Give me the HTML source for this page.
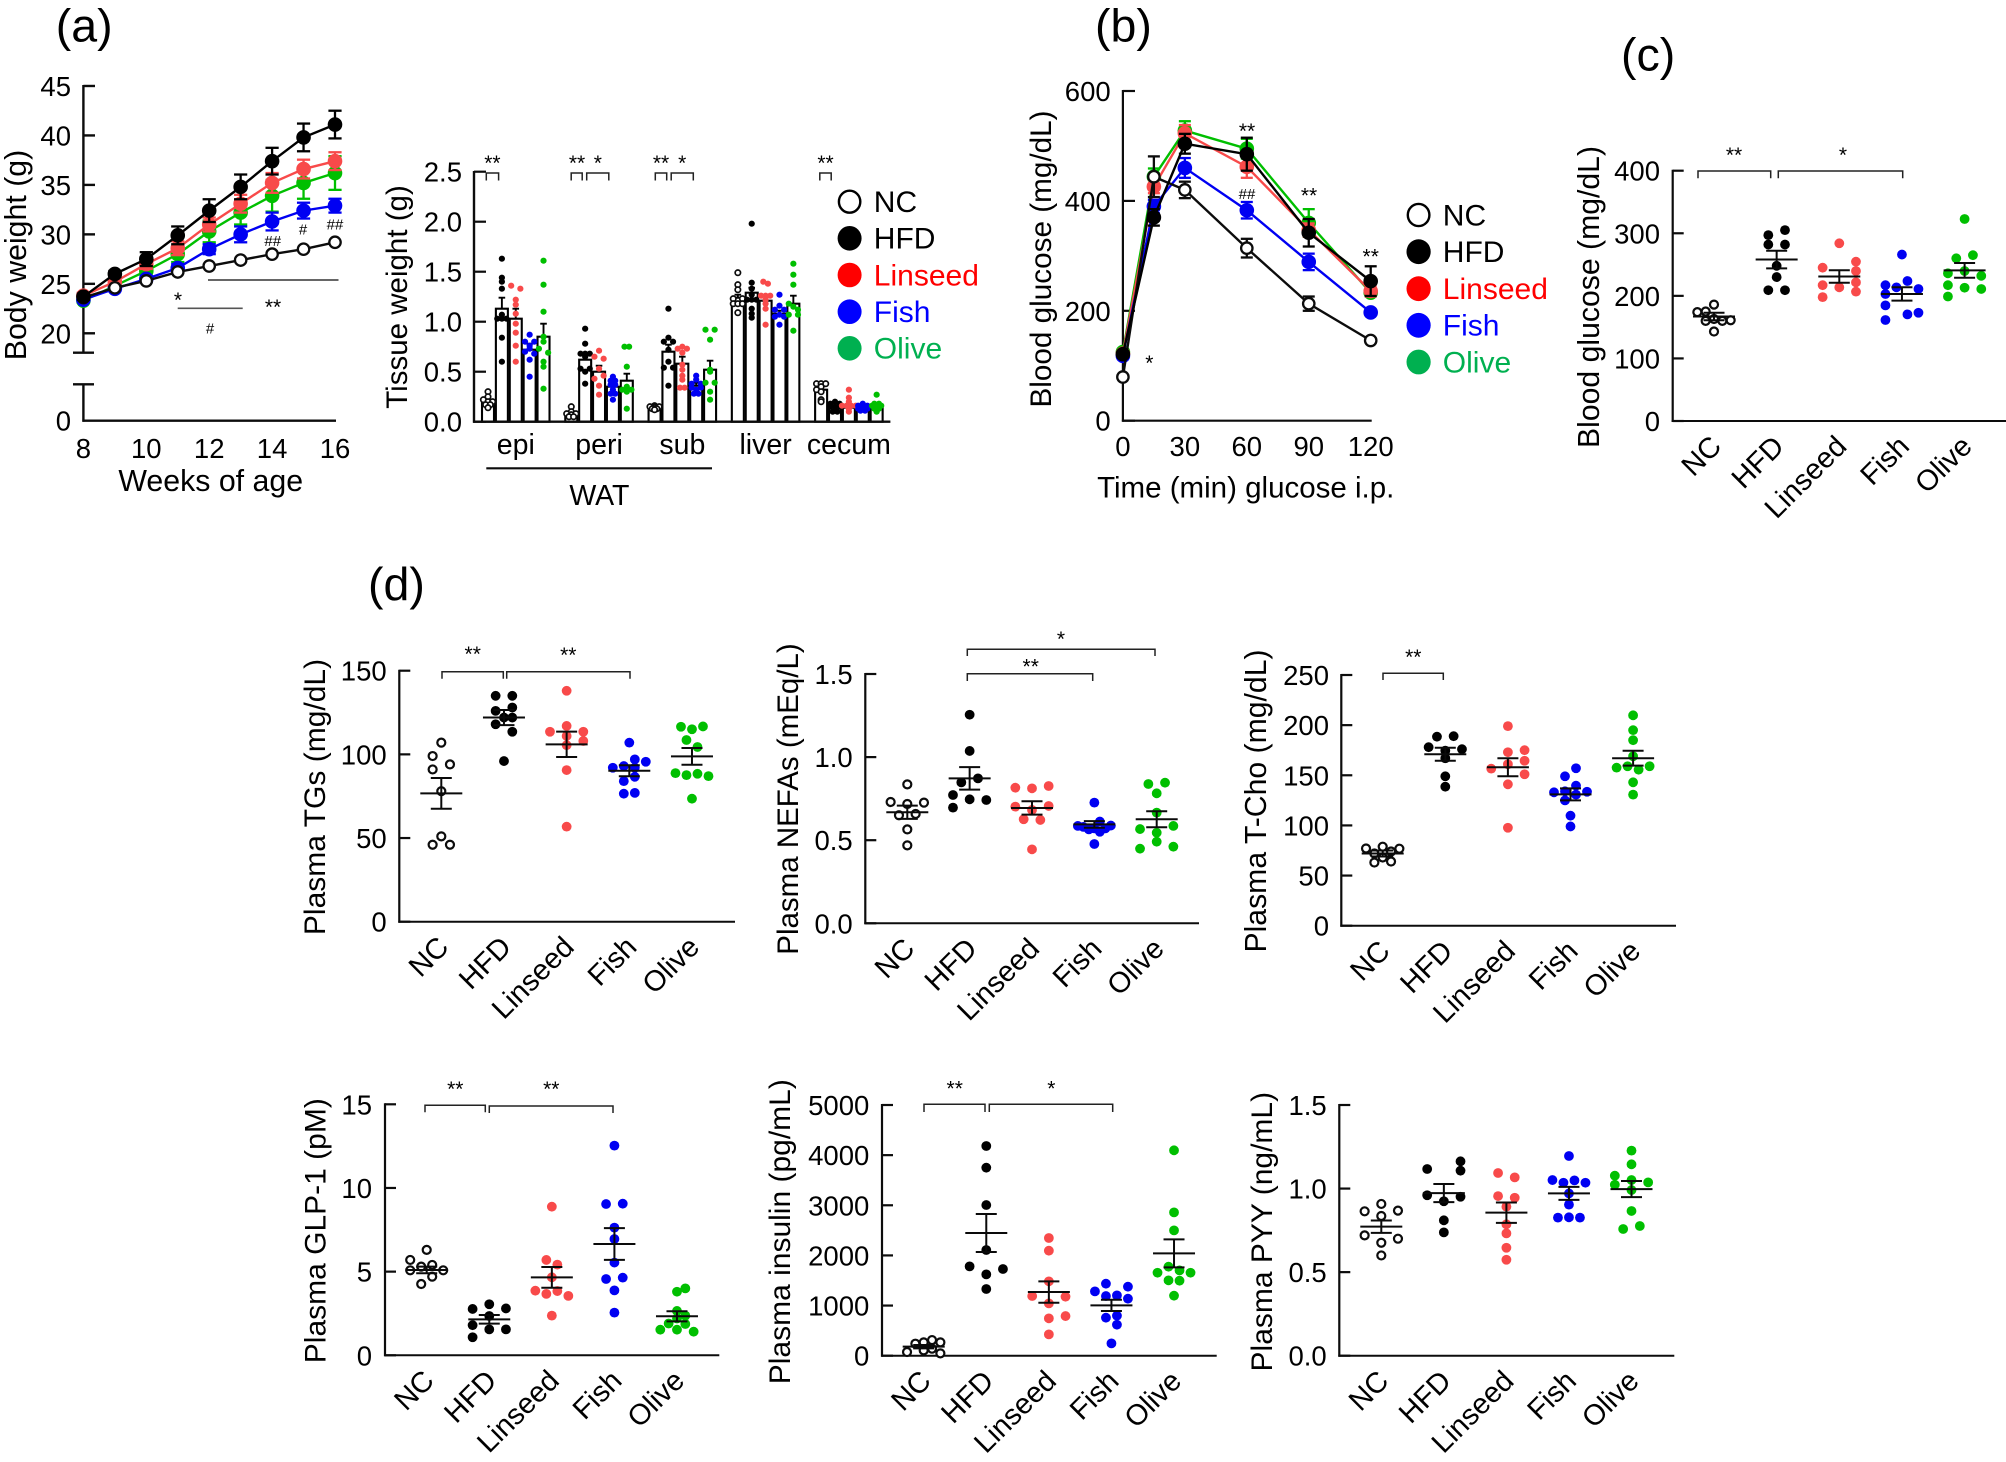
<!DOCTYPE html>
<html lang="en">
<head>
<meta charset="utf-8">
<title>Metabolic phenotype panels</title>
<style>
html,body{margin:0;padding:0;background:#fff;}
#figure{position:absolute;left:0;top:0;display:block;width:2006px;height:1462px;font-family:"Liberation Sans",Arial,sans-serif;}
</style>
</head>
<body>
<svg id="figure" xmlns="http://www.w3.org/2000/svg" width="2006" height="1462" viewBox="0 0 2006 1462"></svg>
<script>
/* ---------- shared categories ---------- */
const groupLabels = ['NC','HFD','Linseed','Fish','Olive'];

/* ---------- (a) body weight ---------- */
const bodyWeeks = [8,9,10,11,12,13,14,15,16];
const bodyWeekTicks = [8,10,12,14,16];
const bodyTicks = [20,25,30,35,40,45];
const bodyNC = [23.6,24.6,25.3,26.2,26.8,27.4,28.0,28.5,29.2];
const bodyNCErr = [0.2,0.2,0.2,0.2,0.2,0.2,0.2,0.2,0.2];
const bodyHFD = [23.7,26.0,27.5,29.9,32.4,34.8,37.4,39.8,41.1];
const bodyHFDErr = [0.3,0.3,0.7,0.9,1.15,1.25,1.35,1.4,1.4];
const bodyLinseed = [23.8,25.2,27.0,28.6,31.0,33.1,35.2,36.6,37.4];
const bodyLinseedErr = [0.3,0.3,0.5,0.7,0.7,0.9,1.0,0.95,0.9];
const bodyFish = [23.4,24.5,25.5,26.6,28.5,30.0,31.3,32.4,32.9];
const bodyFishErr = [0.2,0.2,0.3,0.4,0.5,0.8,0.9,0.8,0.7];
const bodyOlive = [23.3,24.8,26.3,28.0,30.3,32.2,33.9,35.2,36.2];
const bodyOliveErr = [0.2,0.3,0.5,0.8,1.1,1.2,1.6,1.6,1.7];

/* ---------- (a) tissue weight ---------- */
const tissueOrgans = ['epi','peri','sub','liver','cecum'];
const tissueTicks = [0,0.5,1,1.5,2,2.5];
const tissueTickLabels = ['0.0','0.5','1.0','1.5','2.0','2.5'];
const tissueMeans = [
  [0.20,1.13,1.03,0.72,0.85],
  [0.07,0.62,0.50,0.35,0.41],
  [0.14,0.70,0.58,0.36,0.52],
  [1.24,1.29,1.21,1.08,1.18],
  [0.32,0.14,0.14,0.13,0.14]
];
const tissueSems = [
  [0.02,0.11,0.10,0.06,0.13],
  [0.01,0.05,0.06,0.03,0.07],
  [0.01,0.07,0.07,0.03,0.09],
  [0.03,0.05,0.05,0.03,0.08],
  [0.03,0.01,0.02,0.01,0.02]
];
const tissueEpiDots = [
  [[.30],[.25],[.22,.2,.2],[.17,.17],[.14]],
  [[1.63],[1.44],[1.4],[1.33],[1.07],[1.03,1.03,1.03],[.84],[.6]],
  [[1.36,null,1.33],[1.22],[1.17],[1.08],[.98],[.89],[.76],[.6]],
  [[.87],[.8,null,.8],[.76],[.73],[.7,null,null],[null,null,.68],[.62],[.45]],
  [[1.61],[1.37],[1.1],[.85],[.8],[.73,null,null],[null,null,.69],[.6],[.55],[.33]]
];
const tissuePeriDots = [
  [[.15],[.1],[.08,.07,.08],[.05,.05]],
  [[.93],[.78],[.68,.68,.68],[.65],[.53,null,.53],[.5],[.38]],
  [[.71],[.65,null,null],[null,null,.63],[.53],[null,null,.46],[.43,null,null],[.36],[.27]],
  [[.45],[.41,.41],[.37,.37],[.32],[.28,.28],[.22]],
  [[.75,.75],[.55],[.35],[.32,.32,.32],[.3],[.13]]
];
const tissueSubDots = [
  [[.16],[.15,.15,.15],[.14],[.13,.13],[.12]],
  [[1.13],[.84],[.8,null,.8],[.72],[.6],[.54,null,.54],[.36]],
  [[.75],[.73,null,.73],[.69],[.57],[.52],[.46],[.42],[.34,.34]],
  [[.46],[.42],[.38,null,.38],[.34,null,.34],[.32],[.28,.28]],
  [[.92,null,.92],[.82],[.52],[.5],[.39,null,.39],[.3],[.22]]
];
const tissueLiverDots = [
  [[1.49],[1.37],[1.32],[1.23,null,1.23],[1.18,1.18,1.18],[1.09]],
  [[1.98],[1.39],[1.33],[1.27],[1.22,1.22,1.22],[1.13],[1.08],[1.04]],
  [[1.4,1.38],[1.26,1.26,1.26],[1.22],[1.18],[1.13],[.97]],
  [[1.27],[1.16],[1.12,null,1.12],[1.07],[1.05,null,1.05],[.97]],
  [[1.58],[1.47],[1.37],[1.18,null,null],[1.15],[null,null,1.12],[1.07,null,1.07],[.91]]
];
const tissueCecumDots = [
  [[.38,.38,.38],[.35],[.32,null,null],[.3],[.22],[.2]],
  [[.2],[.18,null,.18],[.15,.15,.15],[.1,.1]],
  [[.32],[.24],[.2],[.16,.16,.16,.16],[.13],[.1]],
  [[.18],[.16,.16,.16],[.13,.13,.13],[.11,.11]],
  [[.27],[.18,.18],[.16,.16,.16],[.13,.13],[.1]]
];

/* ---------- (b) glucose tolerance ---------- */
const gttTimes = [0,15,30,60,90,120];
const gttTimeTicks = [0,30,60,90,120];
const gttTicks = [0,200,400,600];
const gttNC = [79.5,444,420,314,213,146];
const gttNCErr = [3,37,15,17,13,4];
const gttHFD = [121,370,504,485,342,254];
const gttHFDErr = [4,15,18,30,25,27];
const gttLinseed = [122,426,523,462,347,236];
const gttLinseedErr = [4,12,15,20,12,10];
const gttFish = [118,390,460,383,289,197];
const gttFishErr = [4,12,18,15,15,4];
const gttOlive = [125,444,528,495,360,233];
const gttOliveErr = [4,15,17,18,25,6];

/* ---------- (c) blood glucose ---------- */
const bgTicks = [0,100,200,300,400];
const bgMeans = [167,258,231,203,240.7];
const bgSems = [6,14,10,10.7,11.7];
const bgDots = [
  [[186],[174,175,null,null,null],[null,160,163,160,161],[143]],
  [[297,305],[282,282],[248],[230],[209,209]],
  [[284],[null,null,254.6],[245,null,null],[null,null,239.7],[null,null,221.6],[217,213.6,null],[null,null,206.7],[198,null,null]],
  [[266],[null,null,223.7,null],[217,213.6,null,211],[203,null,null,null],[184.8,null,null,null],[null,null,170.4,173],[161.4,null,null,null]],
  [[322.8],[260,265],[236,239.7,232],[217,213,211],[199,null,null]]
];

/* ---------- (d) plasma TGs ---------- */
const tgTicks = [0,50,100,150];
const tgMeans = [76.7,122,106,90.2,98.8];
const tgSems = [9.2,4.5,7.6,3.3,5];
const tgDots = [
  [[107],[99,94],[91,null],[78],[51],[46,46]],
  [[135,135],[126,128],[122],[null,122],[118,null],[null,113.5],[96]],
  [[138],[117],[113.5,null,113.5],[111],[null,null,108],[105.5],[90.6],[56.8]],
  [[107],[null,null,97,95.6],[92,93,92,null],[null,null,86.6,null],[null,84,null,null],[null,76.5,77,null]],
  [[116.5,115,116.7],[108.6,null],[null,104.4],[88.8,87.6,88.4,87],[73.5]]
];

/* ---------- (d) plasma NEFAs ---------- */
const nefaTicks = [0,0.5,1,1.5];
const nefaTickLabels = ['0.0','0.5','1.0','1.5'];
const nefaMeans = [.668,.872,.694,.595,.626];
const nefaSems = [.04,.068,.04,.02,.048];
const nefaDots = [
  [[.836],[.73,null,.718,null,.726],[null,.65,null,.658,null],[.565],[.469]],
  [[1.255],[1.037],[null,.848,null,.872,null],[.772,null,.746,null,.742],[.696,null,null,null,null]],
  [[.816,.812,.826],[.702,null,.706],[.682],[.626,.622],[.445]],
  [[.726],[null,null,null,null,.612,null,null],[.586,.58,.565,.571,.551,.571,.588],[.477]],
  [[.838,.846],[.782],[.666],[.567,null,.586],[.545],[.491],[.449,null,.461]]
];

/* ---------- (d) plasma T-Cho ---------- */
const tchoTicks = [0,50,100,150,200,250];
const tchoMeans = [72,171,158,131,167];
const tchoSems = [3,6.5,9,6,7.4];
const tchoDots = [
  [[78.8],[77,null,null,null,76.8],[null,72,null,74,null],[68],[null,63,null,64,null]],
  [[188.5,null,189],[178,null,null,null,176],[174.5],[167],[149],[138.6]],
  [[199],[null,173,175],[null,null,164.5],[161],[156.6,null,null],[null,null,151],[141],[97.7]],
  [[null,null,157,null],[null,149,null,null],[null,null,139.6,null],[133,134,null,133.6],[null,null,130.7,null],[null,125,null,null],[109.7],[99]],
  [[209.8],[195],[185],[169],[157.6,159,155.6,159],[143],[130.7]]
];

/* ---------- (d) plasma GLP-1 ---------- */
const glpTicks = [0,5,10,15];
const glpMeans = [5.1,2.15,4.66,6.65,2.33];
const glpSems = [.2,.26,.62,.95,.3];
const glpDots = [
  [[6.3],[5.7,null,null,null],[null,5.3,5.4,null],[5.08,null,null,5.08],[null,null,4.7,null],[null,4.26,null,null]],
  [[3.05],[2.77,null,2.8],[2.35],[1.8,null,null],[null,1.55,1.55],[1.08,null,null]],
  [[8.88],[null,5.7,5.42,null],[4.66],[3.86,3.67,3.84,3.55],[2.37]],
  [[12.53],[9.04,9.06],[7.63],[6.95],[5.54],[4.56,4.64],[3.88],[2.55]],
  [[null,null,3.8,4.0,null],[2.65],[null,null,2.2,2.37,null],[null,1.9,null,1.87,null],[1.53,null,1.53,null,1.41]]
];

/* ---------- (d) plasma insulin ---------- */
const insTicks = [0,1000,2000,3000,4000,5000];
const insMeans = [180,2447,1270,1004,2041];
const insSems = [33,378,213,112,279];
const insDots = [
  [[null,240,266,312,266],[73,null,106,140,47]],
  [[4182],[3750],[3005],[2108],[1782,null,1729],[1622],[1330]],
  [[2347],[2094],[1483],[1190,null,1177],[1044],[null,null,791],[745],[425]],
  [[null,1436,null,1376],[1283,1190,1203,1137],[null,758,798,null],[null,null,618,null],[246]],
  [[4096],[2859],[2500],[1655,1775,1702,1655],[null,1503,1496,null],[1197]]
];

/* ---------- (d) plasma PYY ---------- */
const pyyTicks = [0,0.5,1,1.5];
const pyyTickLabels = ['0.0','0.5','1.0','1.5'];
const pyyMeans = [.772,.973,.856,.971,.997];
const pyySems = [.037,.054,.061,.039,.048];
const pyyDots = [
  [[.908],[.864,null,.868],[.836],[.72,null,.7],[.676],[.6]],
  [[null,null,1.163],[1.117,null,1.107],[.96,null,.951],[.924],[.81],[.738]],
  [[1.093,1.067],[.955,.945],[.892],[.786],[.732],[.646],[.574]],
  [[1.195],[1.051,1.035,1.049,1.035],[.971],[.904],[.826,.828,.826]],
  [[1.227],[1.145],[1.077,null,null],[1.051],[null,null,1.037],[1.023,null,null],[.991],[.866],[.758,.776]]
];

/* ---------- drawing ---------- */
const NS = 'http://www.w3.org/2000/svg';
const root = document.getElementById('figure');
const INK = '#0c0c0c';
const plotColors = {NC:'#0c0c0c',HFD:'#000000',Linseed:'#f84a4a',Fish:'#0000f2',Olive:'#00bf00'};
const legendColors = {NC:'#000000',HFD:'#000000',Linseed:'#ff0000',Fish:'#0000ff',Olive:'#00b050'};

function mk(parent, tag, attrs, name){
  const el = document.createElementNS(NS, tag);
  for (const k in attrs) el.setAttribute(k, attrs[k]);
  
  
  parent.appendChild(el);
  return el;
}
function group(parent, name){ return mk(parent, 'g', {}, name); }
function seg(p, x1, y1, x2, y2, sw, color, name){
  return mk(p, 'line', {x1:x1, y1:y1, x2:x2, y2:y2, stroke:color||INK, 'stroke-width':sw||2}, name);
}
function label(p, str, x, y, o, name){
  o = o || {};
  let t = 'translate(' + x + ' ' + y + ')';
  if (o.rot) t += ' rotate(' + o.rot + ')';
  const el = mk(p, 'text', {x:0, y:0, transform:t, 'font-size':o.size||27.5, 'text-anchor':o.anchor||'middle', fill:o.fill||'#000'}, name);
  el.textContent = str;
  return el;
}
function stars(p, str, x, yCenter){
  label(p, str, x, yCenter + 12, {size:21}, 'significance-stars');
}
function hash(p, str, x, yCenter){
  label(p, str, x, yCenter + 5.5, {size:15}, 'significance-hash');
}
function bracket(p, x1, x2, top, legs){
  mk(p, 'path', {d:'M'+x1+' '+legs+'V'+top+'H'+x2+'V'+legs, fill:'none', stroke:'#222', 'stroke-width':1.5}, 'significance-bracket');
}
function dot(p, cx, cy, r, color, open, sw, name){
  return mk(p, 'circle', {cx:cx, cy:cy, r:r, fill:open ? '#fff' : color, stroke:open ? color : 'none', 'stroke-width':open ? sw : 0}, name);
}

/* dot plot panels */
function dotPlot(cfg){
  const g = group(root, cfg.name);
  const y = v => cfg.y0 - (v / cfg.maxV) * (cfg.y0 - cfg.yTop);
  const xc = i => cfg.x0 + i * cfg.dx;
  seg(g, cfg.axisX, cfg.yTop - 1, cfg.axisX, cfg.y0 + 1, 2.2, INK, 'y-axis-line');
  seg(g, cfg.axisX - 1, cfg.y0, cfg.endX, cfg.y0, 2, INK, 'x-axis-line');
  cfg.ticks.forEach((t, i) => {
    seg(g, cfg.axisX, y(t), cfg.axisX + 11, y(t), 2.2, INK, 'y-tick');
    label(g, cfg.tickLabels ? cfg.tickLabels[i] : String(t), cfg.labelRight, y(t) + 10, {anchor:'end'}, 'y-tick-label');
  });
  label(g, cfg.title, cfg.titleX, cfg.titleY, {rot:-90, size:cfg.titleSize || 30}, 'y-axis-title');
  groupLabels.forEach((n, i) => {
    label(g, n, xc(i) + 9, cfg.y0 + 27, {rot:-45, anchor:'end', size:29}, 'x-tick-label-' + n.toLowerCase());
  });
  cfg.dots.forEach((rows, i) => {
    const name = groupLabels[i];
    const color = plotColors[name];
    const grp = group(g, 'group-' + name.toLowerCase());
    const step = cfg.steps[i] / 3;
    rows.forEach(row => {
      row.forEach((v, k) => {
        if (v === null) return;
        const cx = xc(i) + (k - (row.length - 1) / 2) * step;
        if (name === 'NC') dot(grp, cx, y(v), 4, color, true, 2.2, 'data-point');
        else dot(grp, cx, y(v), 4.9, color, false, 0, 'data-point');
      });
    });
    const m = cfg.means[i], s = cfg.sems[i];
    seg(grp, xc(i) - 21, y(m), xc(i) + 21, y(m), 2, '#0a0a0a', 'mean-line');
    seg(grp, xc(i), y(m - s), xc(i), y(m + s), 2, '#0a0a0a', 'sem-bar');
    seg(grp, xc(i) - 10.5, y(m + s), xc(i) + 10.5, y(m + s), 2, '#0a0a0a', 'sem-cap-upper');
    seg(grp, xc(i) - 10.5, y(m - s), xc(i) + 10.5, y(m - s), 2, '#0a0a0a', 'sem-cap-lower');
  });
  (cfg.brackets || []).forEach(b => bracket(g, b[0], b[1], b[2], b[3]));
  (cfg.stars || []).forEach(s => stars(g, s[0], s[1], s[2]));
}

/* line panels */
function lineSeries(g, xs, ys, errs, color, name, xf, yf, capW, open){
  const sg = group(g, 'series-' + name);
  const pts = xs.map((x, i) => xf(x) + ',' + yf(ys[i])).join(' ');
  mk(sg, 'polyline', {points:pts, fill:'none', stroke:color, 'stroke-width':2.4}, 'series-line');
  xs.forEach((x, i) => {
    const hi = yf(ys[i] + errs[i]), lo = yf(ys[i] - errs[i]), px = xf(x);
    seg(sg, px, hi, px, lo, 2.3, color, 'error-bar');
    seg(sg, px - capW, hi, px + capW, hi, 2.3, color, 'error-cap-upper');
    seg(sg, px - capW, lo, px + capW, lo, 2.3, color, 'error-cap-lower');
  });
  xs.forEach((x, i) => {
    if (open) dot(sg, xf(x), yf(ys[i]), 5.7, color, true, 2.3, 'data-point');
    else dot(sg, xf(x), yf(ys[i]), 7.3, color, false, 0, 'data-point');
  });
}

function legend(parent, x, ys, textX, rx, ry){
  const g = group(parent, 'legend');
  groupLabels.forEach((n, i) => {
    const e = group(g, 'legend-entry-' + n.toLowerCase());
    if (n === 'NC') mk(e, 'ellipse', {cx:x, cy:ys[i], rx:rx - 1.3, ry:ry - 1.3, fill:'#fff', stroke:'#000', 'stroke-width':2.4}, 'legend-marker');
    else mk(e, 'ellipse', {cx:x, cy:ys[i], rx:rx, ry:ry, fill:legendColors[n]}, 'legend-marker');
    label(e, n, textX, ys[i] + 10.3, {anchor:'start', size:30, fill:legendColors[n]}, 'legend-label');
  });
}

/* panel letters */
const letters = group(root, 'panel-letters');
label(letters, '(a)', 55.8, 41.7, {anchor:'start', size:46.5}, 'panel-label-a');
label(letters, '(b)', 1095, 41.7, {anchor:'start', size:46.5}, 'panel-label-b');
label(letters, '(c)', 1621, 70.7, {anchor:'start', size:46.5}, 'panel-label-c');
label(letters, '(d)', 368, 600, {anchor:'start', size:46.5}, 'panel-label-d');

/* (a) body weight chart */
(function(){
  const g = group(root, 'body-weight-chart');
  const xf = w => 83.4 + (w - 8) * 31.45;
  const yf = v => 333.3 - (v - 20) * 9.893;
  const y0 = 420.7;
  seg(g, 83.4, 85, 83.4, 352.7, 2.4, INK, 'y-axis-upper-line');
  seg(g, 73, 352.7, 94, 352.7, 2.4, INK, 'y-axis-break-lower');
  seg(g, 73, 384.3, 94, 384.3, 2.4, INK, 'y-axis-break-upper');
  seg(g, 83.4, 384.3, 83.4, y0 + 1, 2.4, INK, 'y-axis-lower-line');
  seg(g, 82.4, y0, xf(16) + 1, y0, 2.4, INK, 'x-axis-line');
  bodyTicks.forEach(t => {
    seg(g, 83.4, yf(t), 95, yf(t), 2.4, INK, 'y-tick');
    label(g, String(t), 71, yf(t) + 10, {anchor:'end'}, 'y-tick-label');
  });
  label(g, '0', 71, y0 + 10, {anchor:'end'}, 'y-tick-label');
  bodyWeekTicks.forEach(t => label(g, String(t), xf(t), 458, {}, 'x-tick-label'));
  label(g, 'Weeks of age', 210.7, 491, {size:30.3}, 'x-axis-title');
  label(g, 'Body weight (g)', 26, 255, {rot:-90, size:30.3}, 'y-axis-title');
  lineSeries(g, bodyWeeks, bodyOlive, bodyOliveErr, plotColors.Olive, 'olive', xf, yf, 6.6);
  lineSeries(g, bodyWeeks, bodyLinseed, bodyLinseedErr, plotColors.Linseed, 'linseed', xf, yf, 6.6);
  lineSeries(g, bodyWeeks, bodyFish, bodyFishErr, plotColors.Fish, 'fish', xf, yf, 6.6);
  lineSeries(g, bodyWeeks, bodyNC, bodyNCErr, plotColors.NC, 'nc', xf, yf, 4, true);
  lineSeries(g, bodyWeeks, bodyHFD, bodyHFDErr, plotColors.HFD, 'hfd', xf, yf, 6.6);
  seg(g, 208, 280, 338.5, 280, 1.6, '#333', 'significance-line-hfd');
  seg(g, 177.7, 308.3, 242.7, 308.3, 1.6, '#555', 'significance-line-fish');
  stars(g, '*', 178, 295);
  stars(g, '**', 273, 302);
  hash(g, '#', 210, 328);
  hash(g, '##', 272.7, 240.7);
  hash(g, '#', 303, 229);
  hash(g, '##', 335, 224);
})();

/* (a) tissue weight chart */
(function(){
  const g = group(root, 'tissue-weight-chart');
  const y = v => 421.7 - v * 100;
  const barX = (organ, k) => 488 + (organ * 6 + k) * 13.88;
  const allDots = [tissueEpiDots, tissuePeriDots, tissueSubDots, tissueLiverDots, tissueCecumDots];
  tissueMeans.forEach((vals, o) => {
    vals.forEach((v, k) => {
      const x = barX(o, k);
      const bg = group(g, 'bar-' + tissueOrgans[o] + '-' + groupLabels[k].toLowerCase());
      mk(bg, 'rect', {x:x - 6, y:y(v), width:12, height:421.7 - y(v), fill:'#fff', stroke:'#000', 'stroke-width':2.1}, 'bar');
      const top = y(v + tissueSems[o][k]);
      seg(bg, x, y(v), x, top, 1.9, '#000', 'error-bar');
      seg(bg, x - 3.3, top, x + 3.3, top, 1.9, '#000', 'error-cap');
    });
  });
  allDots.forEach((organDots, o) => {
    organDots.forEach((rows, k) => {
      const n = groupLabels[k], c = plotColors[n], x = barX(o, k);
      rows.forEach(row => row.forEach((v, i) => {
        if (v === null) return;
        const cx = x + (i - (row.length - 1) / 2) * 4.6;
        if (n === 'NC') dot(g, cx, y(v), 2.7, c, true, 1.7, 'data-point');
        else dot(g, cx, y(v), 3.1, c, false, 0, 'data-point');
      }));
    });
  });
  seg(g, 474, 171, 474, 422.7, 2.4, INK, 'y-axis-line');
  seg(g, 473, 421.7, 890.4, 421.7, 2.4, INK, 'x-axis-line');
  tissueTicks.forEach((t, i) => {
    seg(g, 474, y(t), 486, y(t), 2.2, INK, 'y-tick');
    label(g, tissueTickLabels[i], 462, y(t) + 10, {anchor:'end', size:27.5}, 'y-tick-label');
  });
  label(g, 'Tissue weight (g)', 407, 297, {rot:-90, size:29.5}, 'y-axis-title');
  tissueOrgans.forEach((n, o) => {
    label(g, n, barX(o, 2), 453.8, {size:28.5}, 'x-tick-label-' + n);
  });
  seg(g, 486.3, 468.3, 712, 468.3, 2.2, INK, 'wat-group-line');
  label(g, 'WAT', 599.4, 505, {size:28.5}, 'wat-group-label');
  [[486.3,498.6],[571.2,582.2],[586.7,608.8],[655.3,666.7],[671.2,693.3],[819.8,831.2]].forEach(b => bracket(g, b[0], b[1], 173, 180.5));
  stars(g, '**', 492.4, 158);
  stars(g, '**', 577, 158);
  stars(g, '*', 597.8, 158);
  stars(g, '**', 661, 158);
  stars(g, '*', 682.2, 158);
  stars(g, '**', 825.5, 158);
  legend(g, 849.6, [201.7,238.3,275,311.7,348.3], 873.8, 12, 12.3);
})();

/* (b) glucose tolerance chart */
(function(){
  const g = group(root, 'glucose-tolerance-chart');
  const xf = t => 1122.9 + t * 2.065;
  const yf = v => 420.7 - v * 0.5495;
  seg(g, 1122.9, 90, 1122.9, 421.7, 2.2, INK, 'y-axis-line');
  seg(g, 1121.9, 420.7, xf(120) + 1, 420.7, 2.2, INK, 'x-axis-line');
  gttTicks.forEach(t => {
    seg(g, 1122.9, yf(t), 1135, yf(t), 2.2, INK, 'y-tick');
    label(g, String(t), 1110.7, yf(t) + 10, {anchor:'end'}, 'y-tick-label');
  });
  gttTimeTicks.forEach(t => label(g, String(t), xf(t), 456, {}, 'x-tick-label'));
  label(g, 'Time (min) glucose i.p.', 1245.7, 497.7, {size:29.5}, 'x-axis-title');
  label(g, 'Blood glucose (mg/dL)', 1051, 259, {rot:-90, size:29.7}, 'y-axis-title');
  lineSeries(g, gttTimes, gttOlive, gttOliveErr, plotColors.Olive, 'olive', xf, yf, 6);
  lineSeries(g, gttTimes, gttLinseed, gttLinseedErr, plotColors.Linseed, 'linseed', xf, yf, 6);
  lineSeries(g, gttTimes, gttFish, gttFishErr, plotColors.Fish, 'fish', xf, yf, 6);
  lineSeries(g, gttTimes, gttNC, gttNCErr, plotColors.NC, 'nc', xf, yf, 6, true);
  lineSeries(g, gttTimes, gttHFD, gttHFDErr, plotColors.HFD, 'hfd', xf, yf, 6);
  stars(g, '*', 1149.3, 358);
  stars(g, '**', 1247, 126);
  hash(g, '##', 1247, 193.3);
  stars(g, '**', 1309, 190.7);
  stars(g, '**', 1370.7, 251.7);
  legend(g, 1418.6, [215,251.7,288.7,325.3,362], 1442.8, 12.1, 12.4);
})();

/* (c) and (d) scatter panels */
dotPlot({name:'blood-glucose-chart', title:'Blood glucose (mg/dL)', titleX:1599, titleY:297, titleSize:30.2,
  axisX:1672.7, y0:421, yTop:170.7, maxV:400, endX:2006, labelRight:1660, x0:1714, dx:62.65,
  ticks:bgTicks, means:bgMeans, sems:bgSems, dots:bgDots, steps:[25,50,50,33,50],
  brackets:[[1698,1770.7,171,178.3],[1778.3,1902.7,171,178.3]], stars:[['**',1734,150],['*',1843,150]]});

dotPlot({name:'plasma-tgs-chart', title:'Plasma TGs (mg/dL)', titleX:325, titleY:797,
  axisX:399.3, y0:921.7, yTop:670.7, maxV:150, endX:735, labelRight:386.7, x0:441.3, dx:62.67,
  ticks:tgTicks, means:tgMeans, sems:tgSems, dots:tgDots, steps:[52,50,50,33,33],
  brackets:[[442,503.3,671.7,678.7],[506.7,630,671.7,678.7]], stars:[['**',472.7,649],['**',568.3,650]]});

dotPlot({name:'plasma-nefas-chart', title:'Plasma NEFAs (mEq/L)', titleX:798, titleY:799, titleSize:29.5,
  axisX:865.3, y0:923.3, yTop:674, maxV:1.5, endX:1199, labelRight:852.7, x0:907.3, dx:62.35,
  ticks:nefaTicks, tickLabels:nefaTickLabels, means:nefaMeans, sems:nefaSems, dots:nefaDots, steps:[25,25,50,16.5,50],
  brackets:[[967.3,1155,649.3,656],[967.3,1092.7,673.7,681]], stars:[['*',1061,634],['**',1030.7,661.7]]});

dotPlot({name:'plasma-t-cho-chart', title:'Plasma T-Cho (mg/dL)', titleX:1266, titleY:801, titleSize:30.2,
  axisX:1341.3, y0:925.7, yTop:675, maxV:250, endX:1676, labelRight:1329, x0:1382.7, dx:62.6,
  ticks:tchoTicks, means:tchoMeans, sems:tchoSems, dots:tchoDots, steps:[25,25,50,33,33],
  brackets:[[1383,1443.3,673.3,680]], stars:[['**',1413.3,652]]});

dotPlot({name:'plasma-glp-1-chart', title:'Plasma GLP-1 (pM)', titleX:325.7, titleY:1230.7,
  axisX:385, y0:1355.3, yTop:1104.3, maxV:15, endX:719.3, labelRight:372, x0:426.7, dx:62.57,
  ticks:glpTicks, means:glpMeans, sems:glpSems, dots:glpDots, steps:[33,50,33,50,25],
  brackets:[[425,485.3,1105.3,1112.3],[489.3,613,1106,1113]], stars:[['**',455.3,1084],['**',551.3,1084]]});

dotPlot({name:'plasma-insulin-chart', title:'Plasma insulin (pg/mL)', titleX:790, titleY:1231.7,
  axisX:882, y0:1355.7, yTop:1105, maxV:5000, endX:1216.7, labelRight:869.3, x0:923.7, dx:62.58,
  ticks:insTicks, means:insMeans, sems:insSems, dots:insDots, steps:[25,50,50,33,33],
  brackets:[[924,985,1104.3,1112],[989.3,1112.7,1104.3,1112]], stars:[['**',954.7,1083.3],['*',1051.3,1083.3]]});

dotPlot({name:'plasma-pyy-chart', title:'Plasma PYY (ng/mL)', titleX:1272, titleY:1231.7,
  axisX:1339.3, y0:1355.7, yTop:1105, maxV:1.5, endX:1674.3, labelRight:1326.7, x0:1381.3, dx:62.55,
  ticks:pyyTicks, tickLabels:pyyTickLabels, means:pyyMeans, sems:pyySems, dots:pyyDots, steps:[50,50,50,33,50]});
</script>
</body>
</html>
